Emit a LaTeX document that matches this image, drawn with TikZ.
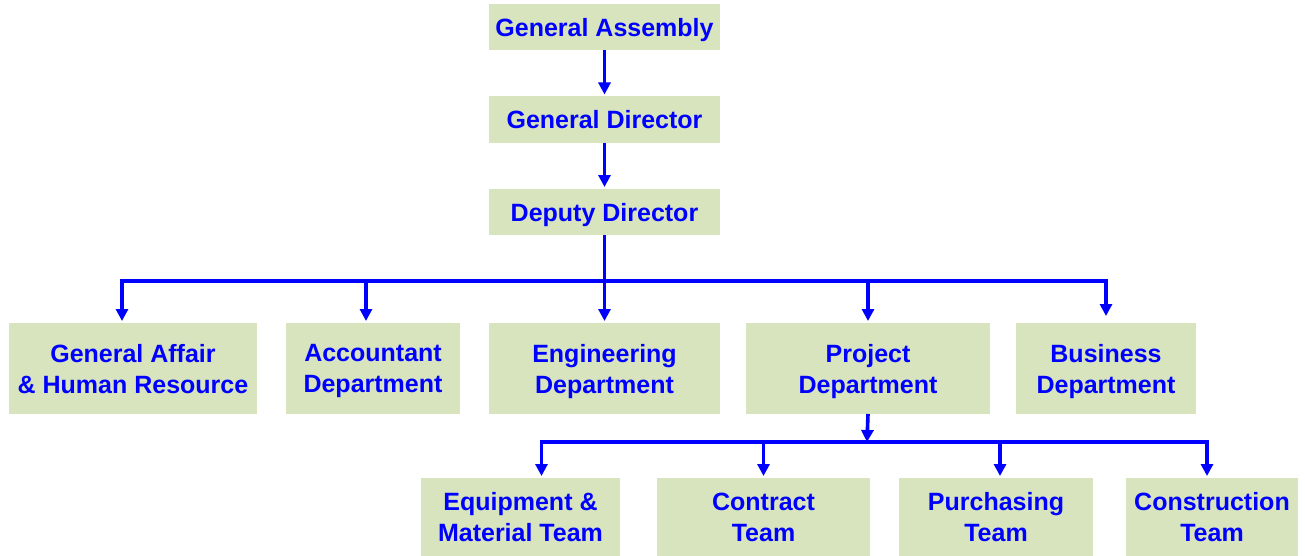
\documentclass[tikz,border=0pt]{standalone}
\usepackage{fontspec}
\setmainfont{Liberation Sans}
\usetikzlibrary{arrows.meta}
\definecolor{boxgreen}{RGB}{215,228,189}
\definecolor{linkblue}{RGB}{0,0,255}
\begin{document}
\begin{tikzpicture}[x=0.5pt,y=-0.5pt,
	box/.style={fill=boxgreen,text=linkblue,align=center,inner sep=0pt,outer sep=0pt,text depth=0pt,
		font=\fontsize{12.5}{15.5}\selectfont\bfseries,minimum width=#1},
	box/.default=115.5pt,
	arr/.style={draw=linkblue,line width=1.8pt,-{Triangle[width=6pt,length=6pt]},shorten >=1pt},
	link/.style={draw=linkblue,line width=1.8pt}]
		\useasboundingbox (0,0) rectangle (1305,556);
		% top of the chart
		\node[box,minimum height=23pt] (ga) at (604.5,27.5){General Assembly};
		\node[box,minimum height=23pt] (gd) at (604.5,119.5){General Director};
		\node[box,minimum height=23pt] (dd) at (604.5,212){Deputy Director};
		% departments
		\node[box=124pt,minimum height=45.5pt] (gahr) at (133,368.5){General Affair\\\& Human Resource};
		\node[box=87pt,minimum height=45.5pt] (acc) at (373,368.5){Accountant\\Department};
		\node[box=115.5pt,minimum height=45.5pt] (eng) at (604.5,368.5){Engineering\\Department};
		\node[box=122pt,minimum height=45.5pt] (pd) at (868,368.5){Project\\Department};
		\node[box=90pt,minimum height=45.5pt] (bd) at (1106,368.5){Business\\Department};
		% teams
		\node[box=99.5pt,minimum height=39pt] (emt) at (520.5,517){Equipment \&\\Material Team};
		\node[box=106.5pt,minimum height=39pt] (ct) at (763.5,517){Contract\\Team};
		\node[box=97pt,minimum height=39pt] (pur) at (996,517){Purchasing\\Team};
		\node[box=86pt,minimum height=39pt] (cnt) at (1212,517){Construction\\Team};
		\coordinate (bus) at (604.5,281);
		\coordinate (pbus) at (867,442);
		\draw[arr] (ga)--(gd);
		\draw[arr] (gd)--(dd);
		\draw[link] (dd.south)--(bus);
		\draw[arr] (bus)-|([xshift=-5.5pt]gahr.north);
		\draw[arr] (bus)-|([xshift=-3.5pt]acc.north);
		\draw[arr] (bus)--(eng.north);
		\draw[arr] (bus)-|(pd.north);
		\draw[arr,shorten >=3.5pt] (bus)-|(bd.north);
		\draw[arr,shorten >=0pt] (pd.south)--(pbus);
		\draw[arr] (pbus)-|([xshift=10.5pt]emt.north);
		\draw[arr] (pbus)-|(ct.north);
		\draw[arr] (pbus)-|([xshift=2pt]pur.north);
		\draw[arr] (pbus)-|([xshift=-2.5pt]cnt.north);
		% \draw[link] (bus)--(pbus);
		\end{tikzpicture}
\end{document}
